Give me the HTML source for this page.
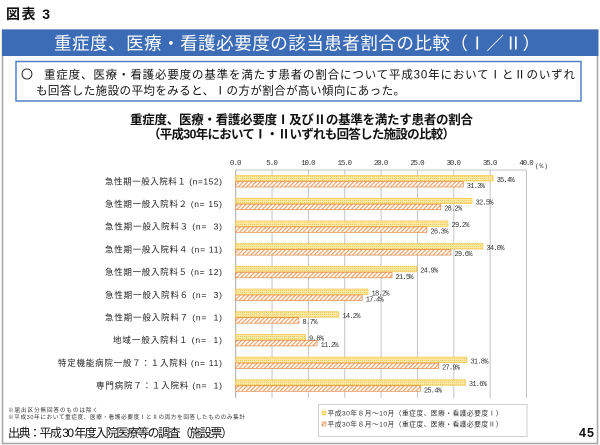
<!DOCTYPE html>
<html><head><meta charset="utf-8"><style>
html,body{margin:0;padding:0;background:#fff;}
svg{display:block;}
text{font-family:"Liberation Sans","Noto Sans CJK JP",sans-serif;white-space:pre;}
.m{font-family:"Liberation Mono","Noto Sans CJK JP",monospace;}
.j{font-family:"Noto Sans CJK JP",sans-serif;}
</style></head><body>
<svg width="600" height="445" viewBox="0 0 600 445" xmlns="http://www.w3.org/2000/svg" xml:space="preserve">
<defs>
<pattern id="py" width="2" height="2" patternUnits="userSpaceOnUse"><rect width="2" height="2" fill="#fde9a6"/><rect width="1" height="1" fill="#f6cd58"/></pattern>
<pattern id="po" width="3" height="3" patternUnits="userSpaceOnUse" patternTransform="rotate(45)"><rect width="3" height="3" fill="#fff"/><rect width="1.2" height="3" fill="#f0a268"/></pattern>
</defs>
<rect width="600" height="445" fill="#fff"/>
<text x="6" y="19" font-size="14" font-weight="bold" fill="#111" textLength="44">図表 3</text>
<!-- frame -->
<rect x="2.5" y="30" width="595" height="413.5" fill="none" stroke="#a6a6a6" stroke-width="1.5"/>
<rect x="2" y="29.5" width="596.5" height="26.5" fill="#3d6cb6"/>
<text x="54" y="49.5" font-size="17.5" fill="#fff" textLength="486">重症度、医療・看護必要度の該当患者割合の比較（Ⅰ／Ⅱ）</text>
<!-- box -->
<rect x="16" y="61.5" width="565" height="39.5" fill="#fff" stroke="#5080c8" stroke-width="1.5"/>
<text class="j" x="21" y="78.5" font-size="12" fill="#111">〇</text>
<text x="44" y="78.5" font-size="11.5" fill="#111" textLength="531">重症度、医療・看護必要度の基準を満たす患者の割合について平成30年においてⅠとⅡのいずれ</text>
<text x="36" y="94.5" font-size="11.5" fill="#111" textLength="369">も回答した施設の平均をみると、Ⅰの方が割合が高い傾向にあった。</text>
<!-- chart title -->
<text x="130" y="124" font-size="12.5" font-weight="bold" fill="#111" textLength="343">重症度、医療・看護必要度Ⅰ及びⅡの基準を満たす患者の割合</text>
<text x="148" y="138.5" font-size="12.5" font-weight="bold" fill="#111" textLength="307">（平成30年においてⅠ・Ⅱいずれも回答した施設の比較）</text>
<!-- grid -->
<g stroke="#c4c4c4" stroke-width="1">
<line x1="272.05" y1="170" x2="272.05" y2="398"/>
<line x1="308.4" y1="170" x2="308.4" y2="398"/>
<line x1="344.75" y1="170" x2="344.75" y2="398"/>
<line x1="381.1" y1="170" x2="381.1" y2="398"/>
<line x1="417.45" y1="170" x2="417.45" y2="398"/>
<line x1="453.8" y1="170" x2="453.8" y2="398"/>
<line x1="490.15" y1="170" x2="490.15" y2="398"/>
<line x1="526.5" y1="170" x2="526.5" y2="398"/>
<line x1="235.7" y1="170" x2="526.5" y2="170"/>
</g>
<line x1="235.7" y1="170" x2="235.7" y2="398" stroke="#a8a8a8" stroke-width="1"/>
<!-- ticks labels -->
<g class="m" font-size="7.5" fill="#333" text-anchor="middle">
<text class="m" x="235.7" y="165" textLength="11.7">0.0</text>
<text class="m" x="272.05" y="165" textLength="11.7">5.0</text>
<text class="m" x="308.4" y="165" textLength="14.5">10.0</text>
<text class="m" x="344.75" y="165" textLength="14.5">15.0</text>
<text class="m" x="381.1" y="165" textLength="14.5">20.0</text>
<text class="m" x="417.45" y="165" textLength="14.5">25.0</text>
<text class="m" x="453.8" y="165" textLength="14.5">30.0</text>
<text class="m" x="490.15" y="165" textLength="14.5">35.0</text>
<text class="m" x="526.5" y="165" textLength="14.5">40.0</text>
</g>
<text class="m" x="535" y="168" font-size="6.5" fill="#333" textLength="13">(%)</text>
<!-- bars -->
<g stroke-width="0.7">
<rect x="235.7" y="175.5" width="257.4" height="5.5" fill="url(#py)" stroke="#f3c64e"/>
<rect x="235.7" y="181.5" width="227.6" height="5.5" fill="url(#po)" stroke="#e98a4c"/>
<rect x="235.7" y="198.2" width="236.3" height="5.5" fill="url(#py)" stroke="#f3c64e"/>
<rect x="235.7" y="204.2" width="205.0" height="5.5" fill="url(#po)" stroke="#e98a4c"/>
<rect x="235.7" y="220.9" width="212.3" height="5.5" fill="url(#py)" stroke="#f3c64e"/>
<rect x="235.7" y="226.9" width="191.2" height="5.5" fill="url(#po)" stroke="#e98a4c"/>
<rect x="235.7" y="243.6" width="247.2" height="5.5" fill="url(#py)" stroke="#f3c64e"/>
<rect x="235.7" y="249.6" width="215.2" height="5.5" fill="url(#po)" stroke="#e98a4c"/>
<rect x="235.7" y="266.3" width="181.0" height="5.5" fill="url(#py)" stroke="#f3c64e"/>
<rect x="235.7" y="272.3" width="156.3" height="5.5" fill="url(#po)" stroke="#e98a4c"/>
<rect x="235.7" y="289.0" width="132.3" height="5.5" fill="url(#py)" stroke="#f3c64e"/>
<rect x="235.7" y="295.0" width="126.5" height="5.5" fill="url(#po)" stroke="#e98a4c"/>
<rect x="235.7" y="311.7" width="103.2" height="5.5" fill="url(#py)" stroke="#f3c64e"/>
<rect x="235.7" y="317.7" width="63.2" height="5.5" fill="url(#po)" stroke="#e98a4c"/>
<rect x="235.7" y="334.4" width="69.8" height="5.5" fill="url(#py)" stroke="#f3c64e"/>
<rect x="235.7" y="340.4" width="81.4" height="5.5" fill="url(#po)" stroke="#e98a4c"/>
<rect x="235.7" y="357.1" width="231.2" height="5.5" fill="url(#py)" stroke="#f3c64e"/>
<rect x="235.7" y="363.1" width="202.8" height="5.5" fill="url(#po)" stroke="#e98a4c"/>
<rect x="235.7" y="379.8" width="229.7" height="5.5" fill="url(#py)" stroke="#f3c64e"/>
<rect x="235.7" y="385.8" width="184.7" height="5.5" fill="url(#po)" stroke="#e98a4c"/>
</g>
<!-- value labels -->
<g font-size="7" fill="#333">
<text class="m" x="496.6" y="181.8" textLength="18">35.4%</text>
<text class="m" x="466.8" y="188" textLength="18">31.3%</text>
<text class="m" x="475.5" y="204.5" textLength="18">32.5%</text>
<text class="m" x="444.2" y="210.7" textLength="18">28.2%</text>
<text class="m" x="451.5" y="227.2" textLength="18">29.2%</text>
<text class="m" x="430.4" y="233.4" textLength="18">26.3%</text>
<text class="m" x="486.4" y="249.9" textLength="18">34.0%</text>
<text class="m" x="454.4" y="256.1" textLength="18">29.6%</text>
<text class="m" x="420.2" y="272.6" textLength="18">24.9%</text>
<text class="m" x="395.5" y="278.8" textLength="18">21.5%</text>
<text class="m" x="371.5" y="295.3" textLength="18">18.2%</text>
<text class="m" x="365.7" y="301.5" textLength="18">17.4%</text>
<text class="m" x="342.4" y="318" textLength="18">14.2%</text>
<text class="m" x="302.4" y="324.2" textLength="15">8.7%</text>
<text class="m" x="309" y="340.7" textLength="15">9.6%</text>
<text class="m" x="320.6" y="346.9" textLength="18">11.2%</text>
<text class="m" x="470.4" y="363.4" textLength="18">31.8%</text>
<text class="m" x="442" y="369.6" textLength="18">27.9%</text>
<text class="m" x="468.9" y="386.1" textLength="18">31.6%</text>
<text class="m" x="423.9" y="392.3" textLength="18">25.4%</text>
</g>
<!-- category labels -->
<g font-size="8.5" fill="#222">
<text x="105" y="184.3" textLength="117">急性期一般入院料１ (n=152)</text>
<text x="105" y="207" textLength="117">急性期一般入院料２ (n= 15)</text>
<text x="105" y="229.7" textLength="117">急性期一般入院料３ (n=  3)</text>
<text x="105" y="252.4" textLength="117">急性期一般入院料４ (n= 11)</text>
<text x="105" y="275.1" textLength="117">急性期一般入院料５ (n= 12)</text>
<text x="105" y="297.8" textLength="117">急性期一般入院料６ (n=  3)</text>
<text x="105" y="320.5" textLength="117">急性期一般入院料７ (n=  1)</text>
<text x="113" y="343.2" textLength="109">地域一般入院料１ (n=  1)</text>
<text x="58" y="365.9" textLength="164">特定機能病院一般７：１入院料 (n= 11)</text>
<text x="96" y="388.6" textLength="126">専門病院７：１入院料 (n=  1)</text>
</g>
<!-- legend -->
<rect x="318.5" y="404.5" width="208.5" height="32" fill="#fff" stroke="#cfcfcf" stroke-width="1"/>
<rect x="322" y="411" width="4" height="4" fill="url(#py)" stroke="#f3c64e" stroke-width="0.6"/>
<text x="327.5" y="415.5" font-size="6.8" fill="#333" textLength="175">平成30年８月～10月（重症度、医療・看護必要度Ⅰ）</text>
<rect x="322" y="422" width="4" height="4" fill="url(#po)" stroke="#e98a4c" stroke-width="0.6"/>
<text x="327.5" y="426.5" font-size="6.8" fill="#333" textLength="175">平成30年８月～10月（重症度、医療・看護必要度Ⅱ）</text>
<!-- footnotes -->
<text x="8" y="412" font-size="5.6" fill="#333" textLength="90">※届出区分無回答のものは除く</text>
<text x="8" y="419" font-size="5.6" fill="#333" textLength="237">※平成30年において重症度、医療・看護必要度ⅠとⅡの両方を回答したもののみ集計</text>
<!-- source -->
<text x="8" y="437" font-size="12" fill="#111" textLength="225">出典：平成 30 年度入院医療等の調査（施設票）</text>
<text x="579" y="437" font-size="12.5" font-weight="bold" fill="#111" textLength="15">45</text>
</svg>
</body></html>
